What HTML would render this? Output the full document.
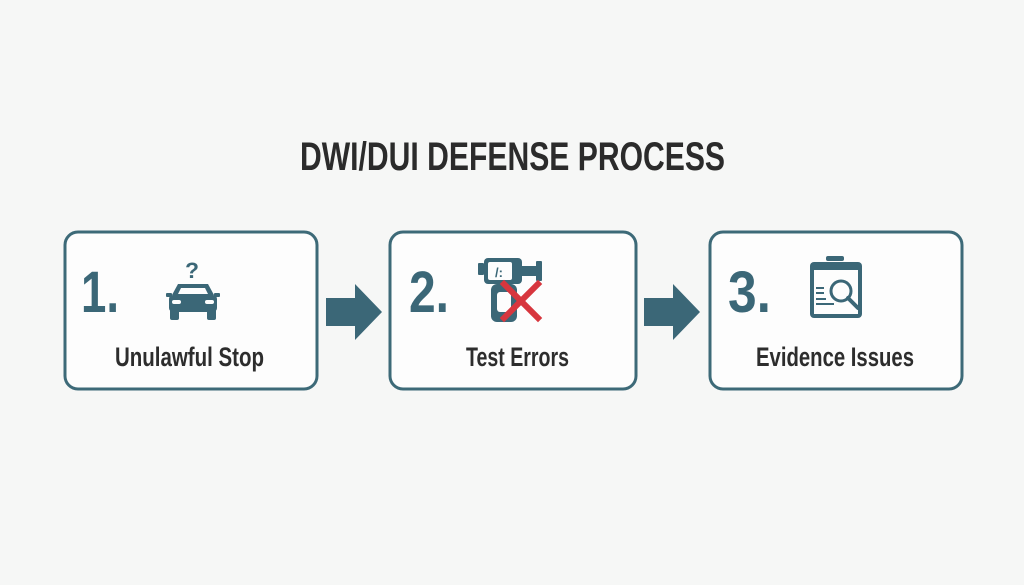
<!DOCTYPE html>
<html><head><meta charset="utf-8"><style>
html,body{margin:0;padding:0;background:#f6f7f6;}
svg{display:block}
text{font-family:"Liberation Sans",sans-serif;font-weight:bold}
</style></head><body>
<svg width="1024" height="585" viewBox="0 0 1024 585" xmlns="http://www.w3.org/2000/svg">
<rect width="1024" height="585" fill="#f6f7f6"/>
<text x="300" y="170" font-size="40" fill="#2b2b2b" textLength="425" lengthAdjust="spacingAndGlyphs">DWI/DUI DEFENSE PROCESS</text>

<g fill="#fdfdfd" stroke="#3d6a78" stroke-width="3">
<rect x="65" y="232" width="252" height="157" rx="13"/>
<rect x="390" y="232" width="246" height="157" rx="13"/>
<rect x="710" y="232" width="252" height="157" rx="13"/>
</g>

<g fill="#3b6777">
<polygon points="326,298 355,298 355,284 382,312 355,340 355,326 326,326"/>
<polygon points="644,298 673,298 673,284 700,312 673,340 673,326 644,326"/>
</g>

<g fill="#3b6777" font-size="58">
<text x="81" y="312" textLength="38" lengthAdjust="spacingAndGlyphs">1.</text>
<text x="409" y="312" textLength="40" lengthAdjust="spacingAndGlyphs">2.</text>
<text x="728" y="312" textLength="43" lengthAdjust="spacingAndGlyphs">3.</text>
</g>

<g fill="#2d2d2d" font-size="27">
<text x="115" y="366" textLength="149" lengthAdjust="spacingAndGlyphs">Unulawful Stop</text>
<text x="466" y="366" textLength="103" lengthAdjust="spacingAndGlyphs">Test Errors</text>
<text x="756" y="366" textLength="158" lengthAdjust="spacingAndGlyphs">Evidence Issues</text>
</g>

<!-- car icon -->
<g fill="#3b6777">
<text x="185" y="278" font-size="22" textLength="14" lengthAdjust="spacingAndGlyphs">?</text>
<path d="M178,284 h30 l6,11 h-42 z"/>
<rect x="166" y="293" width="6" height="4" rx="1"/>
<rect x="214" y="293" width="6" height="4" rx="1"/>
<rect x="169" y="295" width="48" height="17" rx="4"/>
<rect x="170" y="308" width="9" height="12" rx="2"/>
<rect x="207" y="308" width="9" height="12" rx="2"/>
<path d="M181,288 h24 l3,6 h-30 z" fill="#fdfdfd"/>
<rect x="172" y="300" width="9" height="4" rx="2" fill="#fdfdfd"/>
<rect x="205" y="300" width="9" height="4" rx="2" fill="#fdfdfd"/>
</g>

<!-- breathalyzer icon -->
<g fill="#3b6777">
<rect x="478" y="263" width="6" height="12" rx="1"/>
<rect x="484" y="258" width="38" height="26" rx="4"/>
<rect x="488" y="262" width="24" height="18" rx="2" fill="#fdfdfd"/>
<rect x="522" y="266" width="14" height="10"/>
<rect x="536" y="261" width="6" height="20" rx="1"/>
<rect x="491" y="284" width="26" height="38" rx="6"/>
<rect x="497" y="292" width="14" height="20" rx="3" fill="#fdfdfd"/>
<text x="495" y="277" font-size="13" fill="#3b6777">/:</text>
</g>
<g stroke="#d7363e" stroke-width="6" stroke-linecap="square">
<line x1="504" y1="284" x2="538" y2="318"/>
<line x1="538" y1="284" x2="504" y2="318"/>
</g>

<!-- evidence icon -->
<g fill="#3b6777">
<rect x="826" y="256" width="18" height="5" rx="2"/>
<rect x="810" y="262" width="52" height="56" rx="4"/>
<rect x="814" y="270" width="44" height="44" fill="#fdfdfd"/>
<rect x="816" y="287" width="8" height="2"/>
<rect x="816" y="292" width="8" height="2"/>
<rect x="816" y="298" width="10" height="2"/>
<rect x="816" y="303" width="18" height="2"/>
</g>
<circle cx="841" cy="291" r="10" fill="none" stroke="#3b6777" stroke-width="3"/>
<line x1="848" y1="298" x2="858" y2="308" stroke="#3b6777" stroke-width="4" stroke-linecap="round"/>
</svg>
</body></html>
